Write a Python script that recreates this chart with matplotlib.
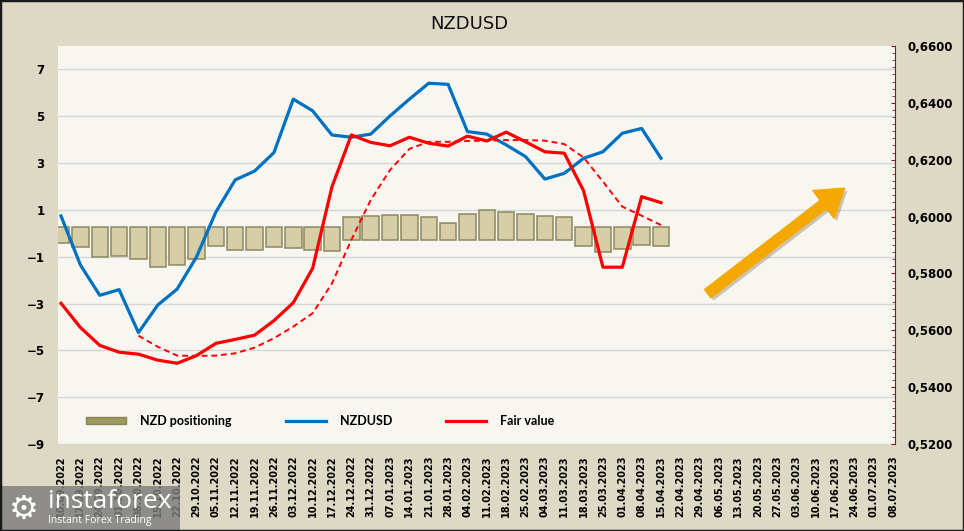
import matplotlib
matplotlib.use("Agg")
import matplotlib.pyplot as plt
import matplotlib.patheffects as pe
import numpy as np
from matplotlib.lines import Line2D
from matplotlib.patches import Patch, Rectangle
from matplotlib.ticker import FixedLocator, MultipleLocator, FuncFormatter

# weekly dates on the x axis
dates = ["10.09.2022", "17.09.2022", "24.09.2022", "01.10.2022", "08.10.2022",
         "15.10.2022", "22.10.2022", "29.10.2022", "05.11.2022", "12.11.2022",
         "19.11.2022", "26.11.2022", "03.12.2022", "10.12.2022", "17.12.2022",
         "24.12.2022", "31.12.2022", "07.01.2023", "14.01.2023", "21.01.2023",
         "28.01.2023", "04.02.2023", "11.02.2023", "18.02.2023", "25.02.2023",
         "04.03.2023", "11.03.2023", "18.03.2023", "25.03.2023", "01.04.2023",
         "08.04.2023", "15.04.2023", "22.04.2023", "29.04.2023", "06.05.2023",
         "13.05.2023", "20.05.2023", "27.05.2023", "03.06.2023", "10.06.2023",
         "17.06.2023", "24.06.2023", "01.07.2023", "08.07.2023"]

# NZD positioning (left axis)
positioning = [-0.42, -0.60, -1.00, -0.96, -1.10, -1.42, -1.36, -1.08, -0.53, -0.72,
               -0.72, -0.60, -0.63, -0.73, -0.76, 0.69, 0.76, 0.79, 0.79, 0.71,
               0.43, 0.83, 1.00, 0.89, 0.83, 0.75, 0.68, -0.56, -0.82, -0.68,
               -0.52, -0.56]

# NZDUSD price (right axis)
nzdusd = [0.6002, 0.5830, 0.5723, 0.5743, 0.5592, 0.5689, 0.5745, 0.5858, 0.6016, 0.6129,
          0.6160, 0.6225, 0.6413, 0.6372, 0.6287, 0.6279, 0.6290, 0.6354, 0.6413, 0.6469,
          0.6465, 0.6299, 0.6290, 0.6252, 0.6211, 0.6132, 0.6152, 0.6205, 0.6228, 0.6293,
          0.6310, 0.6205]

# fair value (right axis)
fair_value = [0.5695, 0.5610, 0.5547, 0.5523, 0.5516, 0.5495, 0.5484, 0.5511, 0.5554, 0.5568,
              0.5583, 0.5634, 0.5697, 0.5818, 0.6105, 0.6287, 0.6261, 0.6249, 0.6279, 0.6258,
              0.6248, 0.6283, 0.6266, 0.6297, 0.6263, 0.6228, 0.6223, 0.6091, 0.5822, 0.5822,
              0.6070, 0.6049]

# smoothed fair value, starts at the 5th week
fair_avg_start = 4
fair_avg = [0.5581, 0.5542, 0.5511, 0.5510, 0.5511, 0.5519, 0.5539, 0.5572, 0.5613, 0.5660,
            0.5765, 0.5918, 0.6058, 0.6164, 0.6238, 0.6263, 0.6263, 0.6266, 0.6267, 0.6269,
            0.6269, 0.6267, 0.6255, 0.6208, 0.6123, 0.6035, 0.6003, 0.5970]

BG = "#DDD9C4"
PLOT_BG = "#F7F6F1"
BEVEL = 0.28

fig = plt.figure(figsize=(9.64, 5.31), dpi=100, facecolor=BG)
ax = fig.add_axes([0.0605, 0.1638, 0.8675, 0.7496])
ax.set_facecolor(PLOT_BG)
ax2 = ax.twinx()

x = np.arange(len(dates))
xp = np.arange(len(positioning))
pos = np.array(positioning)
bottoms = np.where(pos < 0, BEVEL, -BEVEL)
ax.bar(xp, pos - bottoms, bottom=bottoms, width=0.85, color="#D5CEA6",
       edgecolor="#8E8862", linewidth=1.1, zorder=3)

ax.set_xlim(-0.14, 43.07)
ax.set_ylim(-9, 8)
ax.yaxis.set_major_locator(FixedLocator(np.arange(-9, 8, 2)))
ax.grid(axis="y", color="#D6D6D6", linewidth=1, zorder=0)
ax.set_axisbelow(True)
ax.set_xticks(x)
ax.set_xticklabels(dates, rotation=90, fontsize=7, fontweight="bold")
ax.tick_params(axis="x", length=0, pad=8)
ax.tick_params(axis="y", length=0, pad=10, labelsize=8.5)
for t in ax.get_yticklabels():
    t.set_fontweight("bold")
for s in ax.spines.values():
    s.set_visible(False)

xn = np.arange(len(nzdusd))
ax2.plot(xn, nzdusd, color="#0070C0", linewidth=2.3, solid_joinstyle="round", zorder=4)
ax2.plot(xn, fair_value, color="#FF0000", linewidth=2.3, solid_joinstyle="round", zorder=5)
xa = np.arange(fair_avg_start, fair_avg_start + len(fair_avg))
ax2.plot(xa, fair_avg, color="#FF0000", linewidth=1.4, linestyle=(0, (3, 2)), zorder=5)

ax2.set_ylim(0.52, 0.66)
ax2.yaxis.set_major_locator(MultipleLocator(0.02))
ax2.yaxis.set_minor_locator(MultipleLocator(0.0025))
ax2.yaxis.set_major_formatter(FuncFormatter(lambda v, p: f"{v:.4f}".replace(".", ",")))
ax2.tick_params(axis="y", which="both", direction="in", color="#7A1E1E", pad=9, labelsize=8.5)
ax2.tick_params(axis="y", which="major", length=3)
ax2.tick_params(axis="y", which="minor", length=2)
for t in ax2.get_yticklabels():
    t.set_fontweight("bold")
for name, s in ax2.spines.items():
    s.set_visible(name == "right")
ax2.spines["right"].set_color("#7A1E1E")

# big orange arrow
ax.annotate("", xy=(40.6, 2.0), xytext=(33.3, -2.65),
            arrowprops=dict(arrowstyle="simple,head_length=1.6,head_width=2.1,tail_width=0.62",
                            mutation_scale=12, color="#F5A800",
                            path_effects=[pe.SimplePatchShadow(offset=(2, -2), alpha=0.25),
                                          pe.Normal()]),
            zorder=6)

handles = [Patch(facecolor="#9E9A62", edgecolor="#8A8654"),
           Line2D([0], [0], color="#0070C0", linewidth=2.3),
           Line2D([0], [0], color="#FF0000", linewidth=2.3)]
labels = ["NZD positioning", "NZDUSD", "Fair value"]
leg = ax2.legend(handles, labels, ncol=3, frameon=False, loc="center left",
                 bbox_to_anchor=(0.02, 0.058), handlelength=3.2, handleheight=0.5,
                 handletextpad=1.1, columnspacing=4.35,
                 prop={"family": "Lato", "weight": "bold", "size": 9})

fig.text(0.487, 0.955, "NZDUSD", ha="center", va="center", fontsize=13, color="#111111")

# watermark
fig.patches.append(Rectangle((0, 0), 180 / 964, 45 / 531, transform=fig.transFigure,
                             facecolor="#7D7D7D", alpha=0.82, edgecolor="none", zorder=10))
fig.text(24 / 964, 22 / 531, "\u2699", ha="center", va="center", fontsize=24,
         color="white", zorder=11)
fig.text(48 / 964, 30 / 531, "instaforex", ha="left", va="center", fontsize=19,
         color="white", family="Open Sans", zorder=11)
fig.text(48 / 964, 10 / 531, "Instant Forex Trading", ha="left", va="center", fontsize=7.5,
         color="white", family="Open Sans", zorder=11)

fig.patches.append(Rectangle((0, 0), 1, 1, transform=fig.transFigure, fill=False,
                             edgecolor="#1A1A1A", linewidth=2.5, zorder=12))

fig.savefig("out.png", dpi=100, facecolor=BG)
